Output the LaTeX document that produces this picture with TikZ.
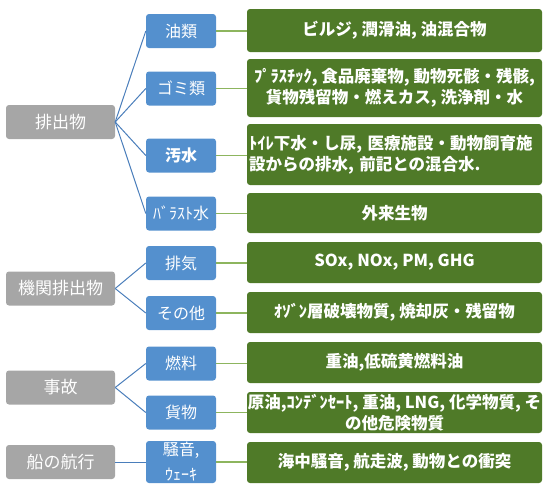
\documentclass[tikz,border=0pt]{standalone}
\usepackage{fontspec}
\setmainfont{Noto Sans CJK JP}
\definecolor{grayc}{HTML}{A6A6A6}
\definecolor{bluec}{HTML}{5490CE}
\definecolor{greenc}{HTML}{4F7A28}
\definecolor{bline}{HTML}{4A7EBB}
\definecolor{gline}{HTML}{8DB55E}
\tikzset{
 base/.style={rounded corners=3pt, text=white, inner sep=0pt, align=center},
 graybox/.style={base, fill=grayc, minimum width=109pt, minimum height=34pt, font=\fontsize{17}{20}\selectfont},
 bluebox/.style={base, fill=bluec, minimum width=70pt, minimum height=34pt, font=\fontsize{16}{19}\selectfont},
 greenbox/.style={base, fill=greenc, minimum width=295pt, font=\bfseries\fontsize{16.5}{21}\selectfont},
 bconn/.style={draw=bline, line width=1pt},
 gconn/.style={draw=gline, line width=1.2pt},
}
\begin{document}
\begin{tikzpicture}[x=1pt,y=-1pt]
\useasboundingbox (0,0) rectangle (546,490);
% gray
\node[graybox] (a1) at (60.5,122) {排出物};
\node[graybox] (a2) at (60.5,288.5) {機関排出物};
\node[graybox] (a3) at (60.5,387.5) {事故};
\node[graybox] (a4) at (60.5,462) {船の航行};
% blue
\node[bluebox] (b1) at (181,31) {油類};
\node[bluebox] (b2) at (181,88.5) {ゴミ類};
\node[bluebox, font=\bfseries\fontsize{16}{19}\selectfont] (b3) at (181,155.5) {汚水};
\node[bluebox] (b4) at (181,213.5) {ﾊﾞﾗｽﾄ水};
\node[bluebox] (b5) at (181,263) {排気};
\node[bluebox] (b6) at (181,313) {その他};
\node[bluebox] (b7) at (181,363.5) {燃料};
\node[bluebox] (b8) at (181,412.5) {貨物};
\node[bluebox, minimum height=42pt, font=\fontsize{16}{25}\selectfont] (b9) at (181,462) {騒音,\\ｳｪｰｷ};
% green
\node[greenbox, minimum height=43pt] (g1) at (394.5,30.5) {ビルジ, 潤滑油, 油混合物};
\node[greenbox, minimum height=58pt] (g2) at (394.5,88) {ﾌﾟﾗｽﾁｯｸ, 食品廃棄物, 動物死骸・残骸,\\貨物残留物・燃えカス, 洗浄剤・水};
\node[greenbox, minimum height=61pt, align=left, text width=291pt, inner xsep=2pt] (g3) at (394.5,154.5) {ﾄｲﾚ下水・し尿, 医療施設・動物飼育施\\設からの排水, 前記との混合水.};
\node[greenbox, minimum height=40pt] (g4) at (394.5,213) {外来生物};
\node[greenbox, minimum height=41pt] (g5) at (394.5,262.5) {SOx, NOx, PM, GHG};
\node[greenbox, minimum height=41pt] (g6) at (394.5,312.5) {ｵｿﾞﾝ層破壊物質, 焼却灰・残留物};
\node[greenbox, minimum height=41pt] (g7) at (394.5,362.5) {重油,低硫黄燃料油};
\node[greenbox, minimum height=41pt] (g8) at (394.5,412.5) {原油,ｺﾝﾃﾞﾝｾｰﾄ, 重油, LNG, 化学物質, そ\\の他危険物質};
\node[greenbox, minimum height=41pt] (g9) at (394.5,462.5) {海中騒音, 航走波, 動物との衝突};
% connectors gray-blue
\foreach \b in {b1,b2,b3,b4} \draw[bconn] (a1.east) -- (\b.west);
\foreach \b in {b5,b6} \draw[bconn] (a2.east) -- (\b.west);
\foreach \b in {b7,b8} \draw[bconn] (a3.east) -- (\b.west);
\draw[bconn] (a4.east) -- (b9.west);
% connectors blue-green
\foreach \i in {1,...,9} \draw[gconn] (b\i.east) -- (b\i.east -| g\i.west);
\end{tikzpicture}
\end{document}
